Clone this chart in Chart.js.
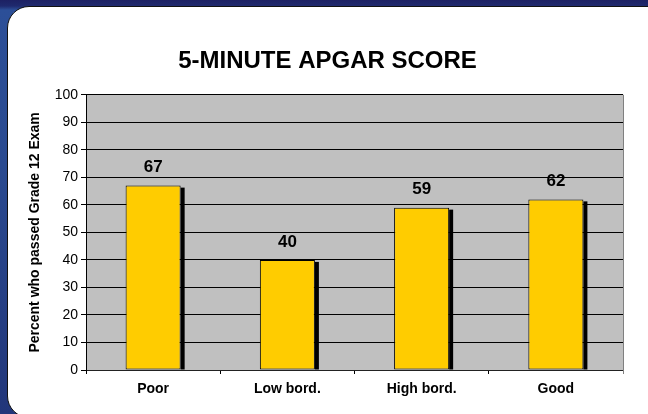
<!DOCTYPE html>
<html>
<head>
<meta charset="utf-8">
<script src="https://cdn.jsdelivr.net/npm/chart.js@4"></script>
<style>
  html, body { margin: 0; padding: 0; }
  body {
    width: 648px; height: 414px; overflow: hidden; position: relative;
    background: linear-gradient(180deg, #1d2163 0px, #1f2a6e 6px, #2c4f98 10px, #2a4a90 40%, #22367a 100%);
  }
  #panel {
    position: absolute; left: 7px; top: 6px; width: 680px; height: 410px;
    background: #fff; border: 1.5px solid #111;
    border-radius: 22px 0 0 22px;
  }
  #apgar { position: absolute; left: 0; top: 0; }
</style>
</head>
<body>
<div id="panel"></div>
<canvas id="apgar" width="648" height="414"></canvas>
<script>
// data
const categories = ['Poor', 'Low bord.', 'High bord.', 'Good'];
const passedPercent = [67, 40, 59, 62];
const yMin = 0, yMax = 100, yStep = 10;

const fontFam = "'Liberation Sans', Arial, Helvetica, sans-serif";
Chart.defaults.color = '#000';
Chart.defaults.font.family = fontFam;

// gray plot area + gray right edge
const plotBg = {
  id: 'plotBg',
  beforeDraw(chart) {
    const {ctx, chartArea: a} = chart;
    ctx.save();
    ctx.fillStyle = '#c0c0c0';
    ctx.fillRect(a.left, a.top, a.right - a.left, a.bottom - a.top);
    ctx.restore();
  },
  afterDraw(chart) {
    const {ctx, chartArea: a} = chart;
    ctx.save();
    ctx.strokeStyle = '#808080';
    ctx.lineWidth = 1;
    ctx.beginPath();
    ctx.moveTo(Math.round(a.right) + 0.5, a.top);
    ctx.lineTo(Math.round(a.right) + 0.5, a.bottom + 4);
    ctx.stroke();
    ctx.restore();
  }
};

// black drop shadow on the right of each bar
const barShadow = {
  id: 'barShadow',
  beforeDatasetsDraw(chart) {
    const ctx = chart.ctx;
    const meta = chart.getDatasetMeta(0);
    ctx.save();
    ctx.fillStyle = '#000';
    meta.data.forEach(bar => {
      const p = bar.getProps(['x', 'y', 'base', 'width'], true);
      ctx.fillRect(p.x + p.width / 2, p.y + 2, 4, p.base - p.y - 2);
    });
    ctx.restore();
  }
};

// value labels above bars
const valueLabels = {
  id: 'valueLabels',
  afterDatasetsDraw(chart) {
    const ctx = chart.ctx;
    const meta = chart.getDatasetMeta(0);
    ctx.save();
    ctx.font = 'bold 17px ' + fontFam;
    ctx.fillStyle = '#000';
    ctx.textAlign = 'center';
    ctx.textBaseline = 'middle';
    meta.data.forEach((bar, i) => {
      ctx.fillText(String(passedPercent[i]), bar.x, bar.y - 18);
    });
    ctx.restore();
  }
};

new Chart(document.getElementById('apgar'), {
  type: 'bar',
  data: {
    labels: categories,
    datasets: [{
      data: passedPercent,
      backgroundColor: '#ffcc00',
      borderColor: '#000',
      borderWidth: 1,
      borderSkipped: false,
      categoryPercentage: 0.41,
      barPercentage: 1
    }]
  },
  options: {
    responsive: false,
    animation: false,
    layout: { padding: { left: 32, right: 25, top: 0, bottom: 0 } },
    plugins: {
      legend: { display: false },
      tooltip: { enabled: false },
      title: {
        display: true,
        text: '5-MINUTE APGAR SCORE',
        color: '#000',
        font: { size: 24, weight: 'bold', family: fontFam },
        padding: { top: 47, bottom: 19 }
      }
    },
    scales: {
      x: {
        afterFit(s) { s.height = 44; },
        grid: { display: true, offset: true, drawOnChartArea: false, drawTicks: true, tickLength: 4, color: '#000' },
        border: { display: true, color: '#222', width: 1 },
        ticks: { font: { size: 14, weight: 'bold' }, padding: 7, color: '#000' }
      },
      y: {
        min: yMin, max: yMax,
        afterFit(s) { s.width = 54; },
        grid: { color: '#000', lineWidth: 1, drawTicks: true, tickLength: 5 },
        border: { display: true, color: '#000', width: 1 },
        ticks: { stepSize: yStep, font: { size: 14 }, padding: 3, color: '#000' },
        title: {
          display: true,
          text: 'Percent who passed Grade 12 Exam',
          font: { size: 14, weight: 'bold' },
          color: '#000',
          padding: { top: -5, bottom: 0 }
        }
      }
    }
  },
  plugins: [plotBg, barShadow, valueLabels]
});
</script>
</body>
</html>
